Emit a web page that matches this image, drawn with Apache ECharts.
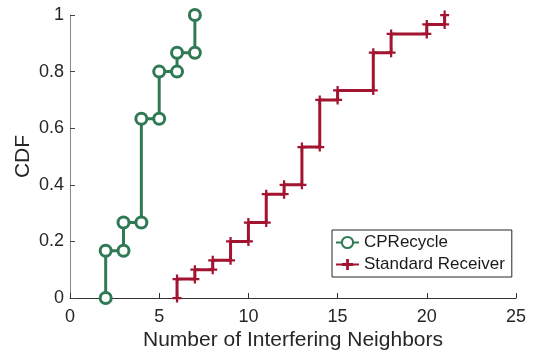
<!DOCTYPE html>
<html><head><meta charset="utf-8">
<script src="https://cdn.jsdelivr.net/npm/echarts@6/dist/echarts.min.js"></script>
<style>html,body{margin:0;padding:0;background:#fff}#c{width:533px;height:352px}</style>
</head><body><div id="c"></div>
<script>
const xTicks = [0, 5, 10, 15, 20, 25];
const yTicks = [0, 0.2, 0.4, 0.6, 0.8, 1];
const cpX = [2, 3, 4, 5, 6, 7];
const cpY = [0.1667, 0.2667, 0.6333, 0.8, 0.8667, 1];
const stdX = [6, 7, 8, 9, 10, 11, 12, 13, 14, 15, 17, 18, 20, 21];
const stdY = [0.0667, 0.1, 0.1333, 0.2, 0.2667, 0.3667, 0.4, 0.5333, 0.7, 0.7333, 0.8667, 0.9333, 0.9667, 1];

function stairs(xs, ys) {
  const pts = [];
  let prev = 0;
  for (let i = 0; i < xs.length; i++) {
    pts.push([xs[i], prev]);
    pts.push([xs[i], ys[i]]);
    prev = ys[i];
  }
  return pts;
}
const GREEN = '#2f7a55', RED = '#a2142f';
const PLUS = 'path://M3,0H5V3H8V5H5V8H3V5H0V3H3Z';
const font = 'Liberation Sans, Arial, sans-serif';
const chart = echarts.init(document.getElementById('c'), null, {renderer: 'canvas'});
chart.setOption({
  animation: false,
  textStyle: {fontFamily: font},
  grid: {left: 70, right: 17, top: 15, bottom: 54, containLabel: false, outerBoundsMode: 'none'},
  legend: {
    orient: 'vertical', left: 332, top: 230,
    padding: [3, 7, 3, 3], itemGap: 3, itemWidth: 23, itemHeight: 14,
    borderColor: '#262626', borderWidth: 1, backgroundColor: '#fff',
    textStyle: {fontSize: 17, lineHeight: 19, color: '#1a1a1a', fontFamily: font},
    data: ['CPRecycle', 'Standard Receiver']
  },
  xAxis: {
    type: 'value', min: 0, max: 25, interval: 5,
    name: 'Number of Interfering Neighbors', nameLocation: 'middle', nameGap: 32,
    nameMoveOverlap: false,
    nameTextStyle: {fontSize: 21, color: '#262626', fontFamily: font},
    axisLine: {lineStyle: {color: '#333', width: 1}},
    axisTick: {inside: true, length: 5, lineStyle: {color: '#333'}},
    axisLabel: {fontSize: 18, color: '#262626', margin: 10, fontFamily: font,
      formatter: v => xTicks.includes(v) ? String(v) : ''},
    splitLine: {show: false}
  },
  yAxis: {
    type: 'value', min: 0, max: 1, interval: 0.2,
    name: 'CDF', nameLocation: 'middle', nameGap: 36, nameRotate: 90,
    nameMoveOverlap: false,
    nameTextStyle: {fontSize: 21, color: '#262626', fontFamily: font},
    axisLine: {show: true, lineStyle: {color: '#888', width: 1}},
    axisTick: {show: true, inside: true, length: 5, lineStyle: {color: '#444'}},
    axisLabel: {fontSize: 18, color: '#262626', margin: 6, fontFamily: font,
      formatter: v => { const t = yTicks.find(k => Math.abs(k - v) < 1e-6); return t === undefined ? '' : String(t); }},
    splitLine: {show: false}
  },
  series: [
    {
      name: 'CPRecycle', type: 'line', data: stairs(cpX, cpY),
      symbol: 'circle', symbolSize: 11, showAllSymbol: true,
      lineStyle: {color: GREEN, width: 3},
      itemStyle: {color: '#fff', borderColor: GREEN, borderWidth: 3},
      z: 3
    },
    {
      name: 'Standard Receiver', type: 'line', data: stairs(stdX, stdY),
      symbol: PLUS, symbolSize: 9, showAllSymbol: true,
      lineStyle: {color: RED, width: 3},
      itemStyle: {color: RED, borderWidth: 0},
      z: 2
    }
  ]
});
</script></body></html>
